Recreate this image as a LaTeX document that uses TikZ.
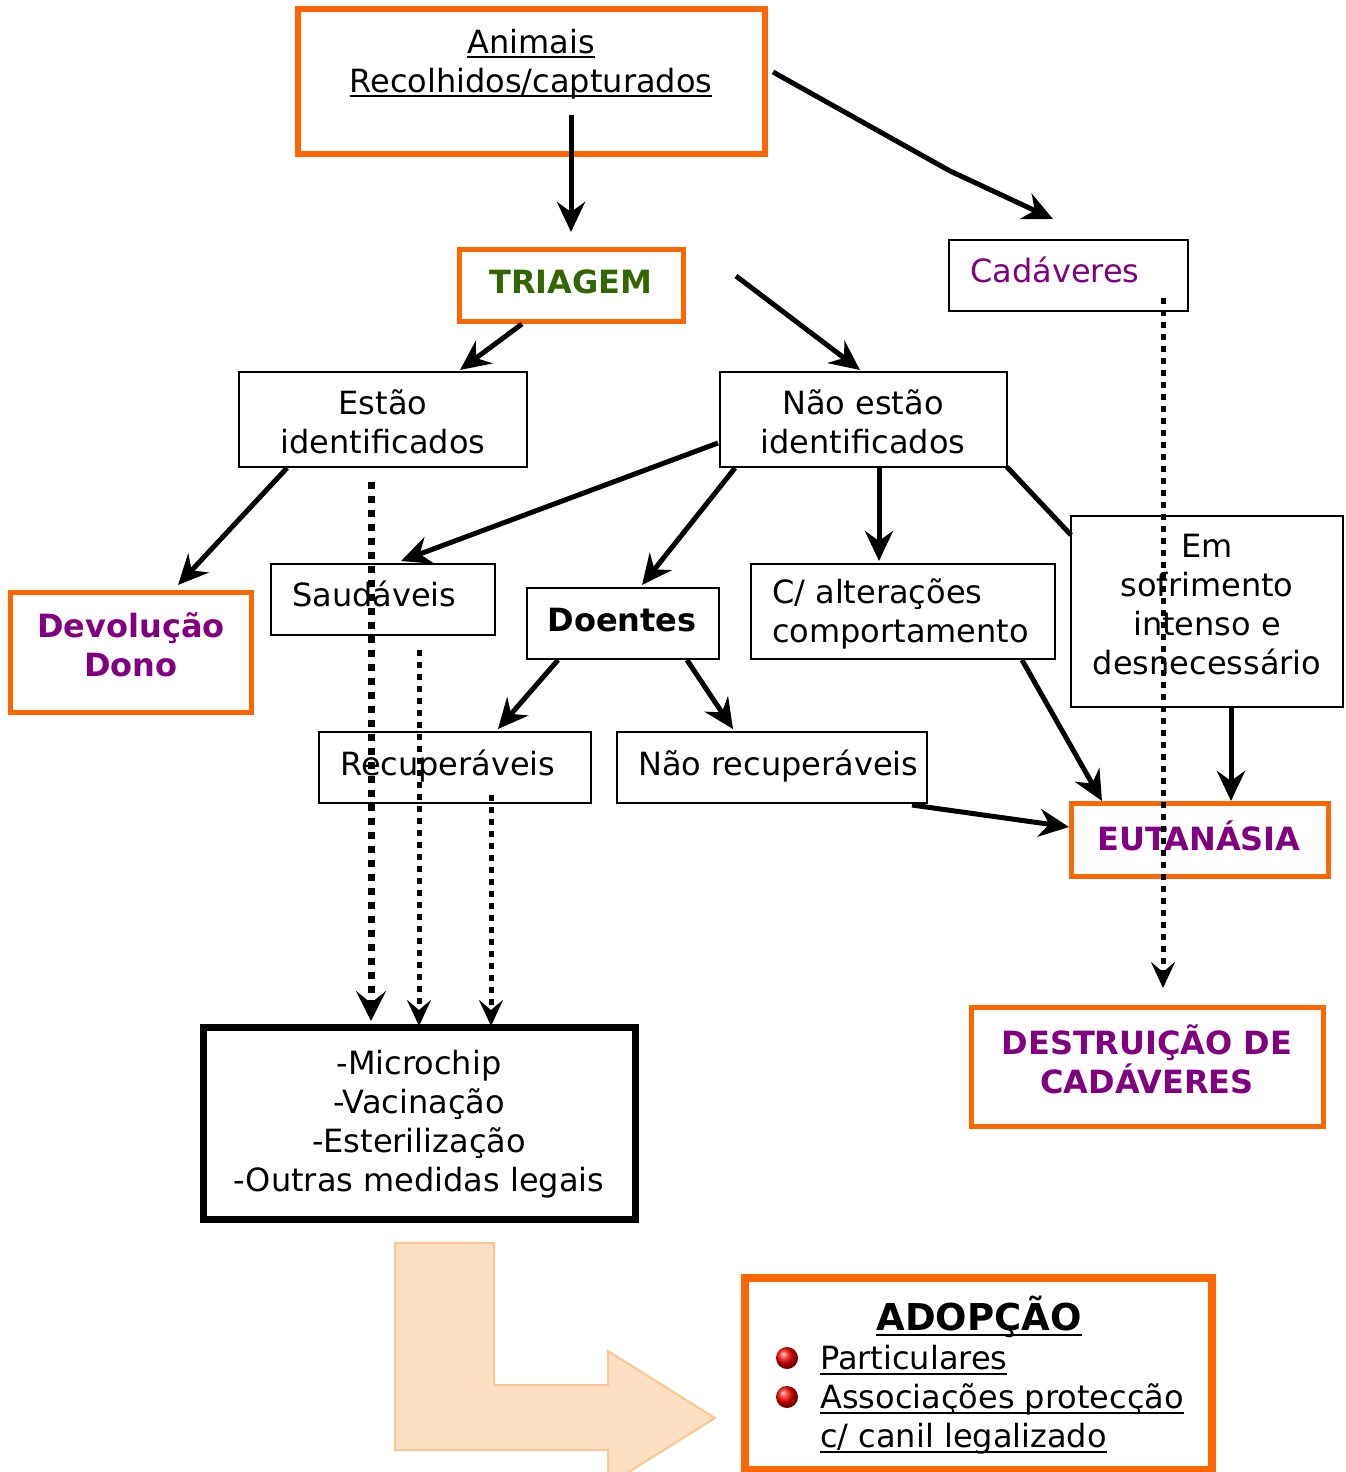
\documentclass[tikz,border=0pt]{standalone}
\usepackage{fontspec}
\setmainfont{DejaVu Sans}
\newcommand\myul[1]{\setbox0\hbox{#1}\rlap{\rule[-5pt]{\wd0}{2pt}}\box0}
\usetikzlibrary{arrows.meta,calc}
\definecolor{orng}{RGB}{255,102,0}
\definecolor{purp}{RGB}{128,0,128}
\definecolor{grn}{RGB}{51,102,0}
\definecolor{peach}{RGB}{253,224,195}
\definecolor{peachline}{RGB}{251,198,145}
\tikzset{
  obox/.style={draw=orng,line width=5pt,rectangle,inner sep=0pt,outer sep=0pt},
  tbox/.style={draw=black,line width=1.8pt,rectangle,inner sep=0pt,outer sep=0pt},
  txt/.style={font=\fontsize{32}{39}\selectfont,align=center,inner sep=0pt},
  btxt/.style={font=\fontsize{32}{39}\selectfont\bfseries,align=center,inner sep=0pt},
  ltxt/.style={font=\fontsize{32}{39}\selectfont,align=left,inner sep=0pt,anchor=west},
  arr/.style={line width=5pt,-{Stealth[length=30pt,width=28pt,inset=10pt]}},
  darr/.style={line width=5pt,dash pattern=on 6pt off 6pt,-{Stealth[length=26pt,width=24pt,inset=10pt]}},
}
\begin{document}
\begin{tikzpicture}[x=1pt,y=-1pt]
\useasboundingbox (0,0) rectangle (1345,1472);
% big peach arrow
\begin{scope}
\clip (0,0) rectangle (1345,1472);
\draw[fill=peach,draw=peachline,line width=2pt,line join=miter]
  (395,1243) -- (494,1243) -- (494,1385) -- (608,1385) -- (608,1351) -- (715,1418)
  -- (608,1485) -- (608,1450) -- (395,1450) -- cycle;
\end{scope}
% boxes
\node[obox,line width=6pt,minimum width=467pt,minimum height=145pt] (animais) at (531.5,81.5) {};
\node[obox,minimum width=224pt,minimum height=72pt] (triagem) at (571,285) {};
\node[tbox,minimum width=239pt,minimum height=71pt] (cadaveres) at (1068.5,275.5) {};
\node[tbox,minimum width=288pt,minimum height=95pt] (estao) at (383,419.5) {};
\node[tbox,minimum width=287pt,minimum height=95pt] (naoestao) at (863.5,419.5) {};
\node[obox,minimum width=241pt,minimum height=120pt] (devolucao) at (130.5,652) {};
\node[tbox,minimum width=224pt,minimum height=71pt] (saudaveis) at (383,599.5) {};
\node[tbox,minimum width=192pt,minimum height=71pt] (doentes) at (623,623.5) {};
\node[tbox,minimum width=304pt,minimum height=95pt] (calt) at (903,611.5) {};
\node[tbox,minimum width=272pt,minimum height=191pt] (sofr) at (1207,611.5) {};
\node[tbox,minimum width=272pt,minimum height=71pt] (recup) at (455,767.5) {};
\node[tbox,minimum width=310pt,minimum height=71pt] (naorecup) at (772,767.5) {};
\node[obox,minimum width=257pt,minimum height=73pt] (eutanasia) at (1199.5,839.5) {};
\node[tbox,line width=7pt,minimum width=432pt,minimum height=192pt] (medidas) at (419,1123) {};
\node[obox,minimum width=352pt,minimum height=119pt] (destr) at (1147,1066.5) {};
\node[obox,line width=8pt,minimum width=467pt,minimum height=192pt] (adopcao) at (978.5,1374) {};
% texts
\node[txt] (animaisT) at (531,64) {\myul{Animais}\\\myul{Recolhidos/capturados}};
\node[btxt,text=grn] (triagemT) at (571,282) {TRIAGEM};
\node[ltxt,text=purp] (cadaveresT) at (970,270) {Cadáveres};
\node[txt] (estaoT) at (383,421.5) {Estão\\identificados};
\node[txt] (naoestaoT) at (863,421.5) {Não estão\\identificados};
\node[btxt,text=purp] (devolucaoT) at (131,645) {Devolução\\Dono};
\node[ltxt] (saudaveisT) at (292,594) {Saudáveis};
\node[btxt] (doentesT) at (622,620) {Doentes};
\node[ltxt] (caltT) at (772,613.5) {C/ alterações\\comportamento};
\node[txt] (sofrT) at (1207,605) {Em\\sofrimento\\intenso e\\desnecessário};
\node[ltxt] (recupT) at (340,766) {Recuperáveis};
\node[ltxt] (naorecupT) at (638,766) {Não recuperáveis};
\node[btxt,text=purp] (eutanasiaT) at (1199,836) {EUTANÁSIA};
\node[txt] (medidasT) at (419,1124) {-Microchip\\-Vacinação\\-Esterilização\\-Outras medidas legais};
\node[btxt,text=purp] (destrT) at (1147,1059) {DESTRUIÇÃO DE\\CADÁVERES};
\node[font=\fontsize{37}{39}\selectfont\bfseries,inner sep=0pt] (adT) at (979,1317) {\myul{ADOPÇÃO}};
\node[ltxt] (adL) at (820,1400) {\myul{Particulares}\\\myul{Associações protecção}\\\myul{c/ canil legalizado}};
\shade[ball color=red] (787,1358) circle (11pt);
\shade[ball color=red] (787,1397) circle (11pt);
% coordinates for free ends
\coordinate (a1) at (571,115);
\coordinate (a1e) at (571,232);
\coordinate (a2) at (773,72);
\coordinate (a2m) at (950,171);
\coordinate (a2e) at (1053,219);
\coordinate (t1) at (522,324);
\coordinate (t1e) at (460,370);
\coordinate (t2) at (736,276);
\coordinate (t2e) at (860,370);
% solid arrows
\draw[arr] (a1) -- (a1e);
\draw[arr] (a2) -- (a2m) -- (a2e);
\draw[arr] (t1) -- (t1e);
\draw[arr] (t2) -- (t2e);
\draw[arr] (287,468) -- (178,585);
\draw[arr] (718,443) -- (401,561);
\draw[arr] (735,468) -- (642,585);
\draw[arr] (879,468) -- (879,561);
\draw[line width=5pt] (1007,467) -- (1071,535);
\draw[arr] (558,660) -- (498,729);
\draw[arr] (687,660) -- (733,729);
\draw[arr] (1022,660) -- (1102,801);
\draw[arr] (1231,708) -- (1231,801);
\draw[arr] (912,805) -- (1069,827);
% dotted arrows
\draw[darr,line width=7pt,dash pattern=on 7pt off 7pt,-{Stealth[length=30pt,width=30pt,inset=12pt]}] (371,482) -- (371,1021);
\draw[darr] (419,650) -- (419,1026);
\draw[darr] (491,795) -- (491,1026);
\draw[darr] (1163,298) -- (1163,988);
\end{tikzpicture}
\end{document}
